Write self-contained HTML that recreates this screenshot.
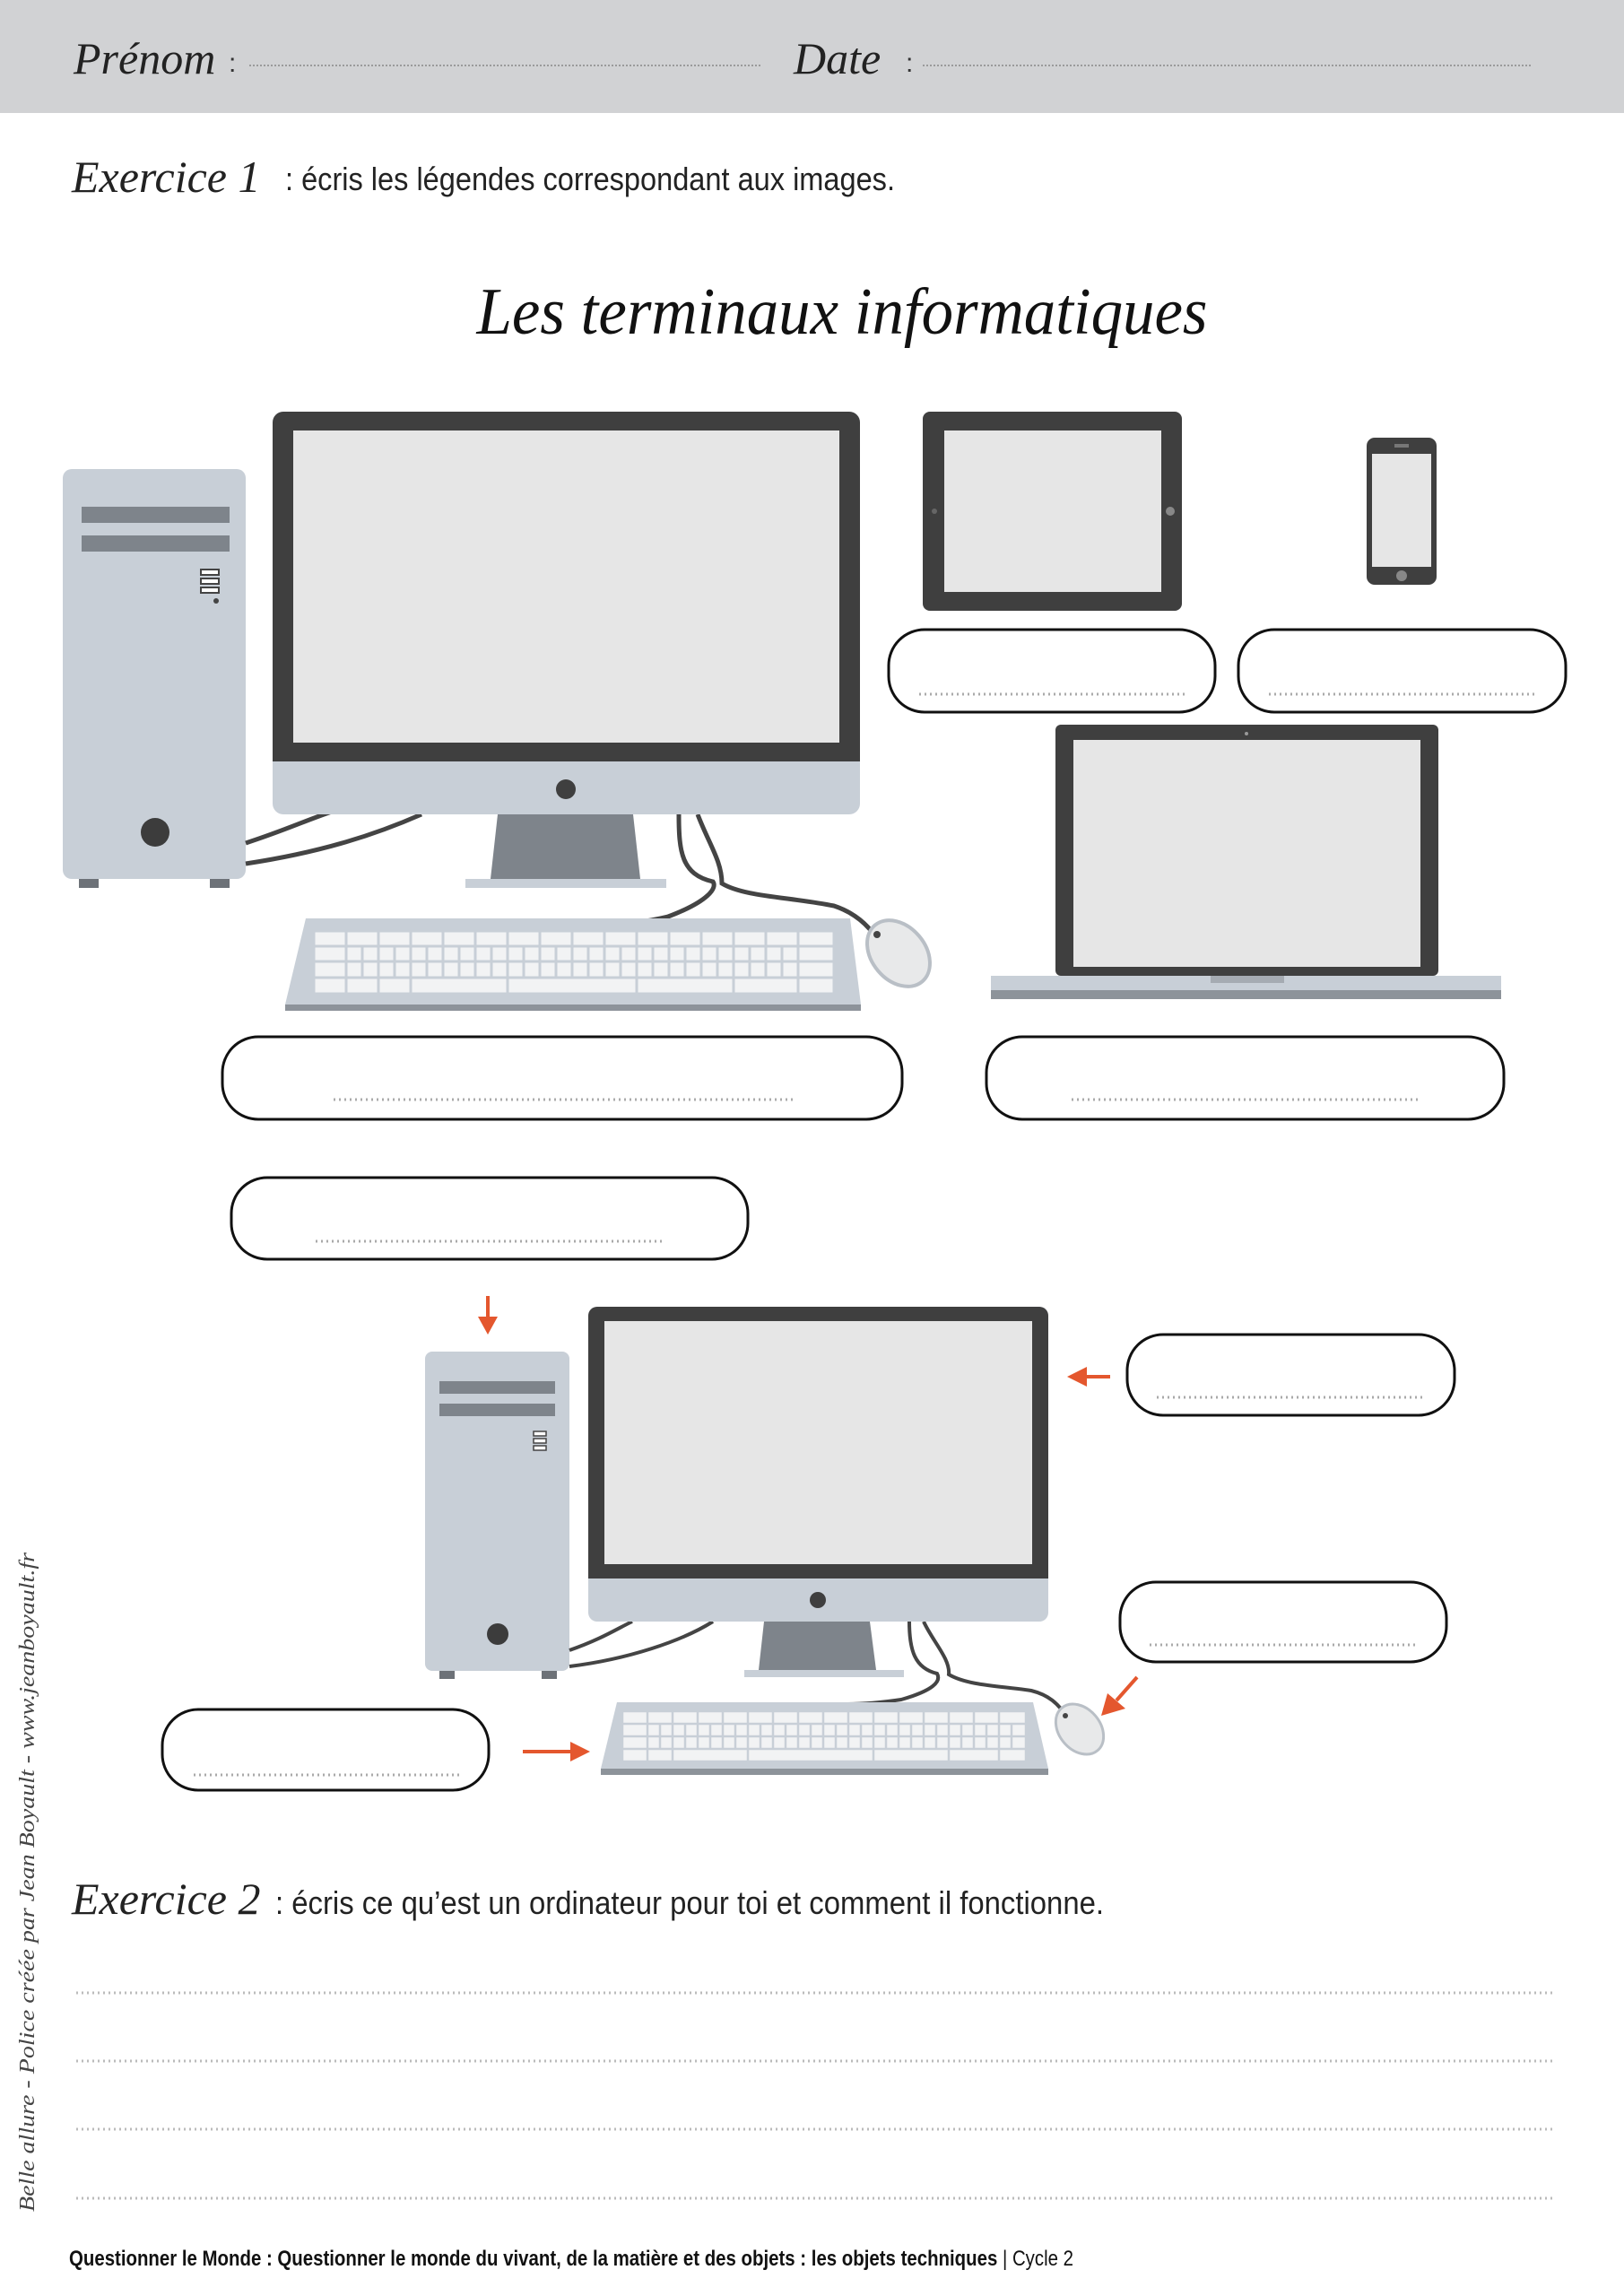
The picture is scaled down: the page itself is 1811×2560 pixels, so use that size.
<!DOCTYPE html>
<html><head><meta charset="utf-8"><style>
html,body{margin:0;padding:0;background:#fff}
svg{display:block}
.cur{font-family:"Liberation Serif",serif;font-style:italic}
.nar{font-family:"Liberation Sans Narrow","Liberation Sans",sans-serif}
</style></head><body>
<svg width="1811" height="2560" viewBox="0 0 1811 2560" xmlns="http://www.w3.org/2000/svg">
<rect x="0" y="0" width="1811" height="126" fill="#d1d2d4"/>
<text x="82" y="82" class="cur" font-size="50" fill="#222">Prénom</text>
<text x="255" y="80" class="nar" font-size="30" fill="#333">:</text>
<line x1="278" y1="73" x2="849" y2="73" stroke="#888" stroke-width="1.5" stroke-dasharray="2 2"/>
<text x="885" y="82" class="cur" font-size="50" fill="#222">Date</text>
<text x="1010" y="80" class="nar" font-size="30" fill="#333">:</text>
<line x1="1029" y1="73" x2="1707" y2="73" stroke="#888" stroke-width="1.5" stroke-dasharray="2 2"/>

<text x="80" y="214" class="cur" font-size="50" fill="#222">Exercice 1</text>
<text x="318" y="212" class="nar" font-size="36" fill="#222" textLength="680" lengthAdjust="spacingAndGlyphs">: écris les légendes correspondant aux images.</text>
<text x="939" y="372" text-anchor="middle" class="cur" font-size="74" fill="#111" textLength="815" lengthAdjust="spacingAndGlyphs">Les terminaux informatiques</text>

<!-- Tower 1 -->
<g>
<rect x="88" y="976" width="22" height="14" fill="#6d7278"/><rect x="234" y="976" width="22" height="14" fill="#6d7278"/>
<rect x="70" y="523" width="204" height="457" rx="10" fill="#c8cfd7"/>
<rect x="91" y="565" width="165" height="18" fill="#7e848b"/>
<rect x="91" y="597" width="165" height="18" fill="#7e848b"/>
<rect x="224" y="635" width="20" height="6" fill="#fff" stroke="#444" stroke-width="2"/>
<rect x="224" y="645" width="20" height="6" fill="#fff" stroke="#444" stroke-width="2"/>
<rect x="224" y="655" width="20" height="6" fill="#fff" stroke="#444" stroke-width="2"/>
<circle cx="241" cy="670" r="3" fill="#444"/>
<circle cx="173" cy="928" r="16" fill="#3c3c3c"/>
</g>
<path d="M274 940 C320 925 340 915 370 905" stroke="#444" stroke-width="5" fill="none"/>
<path d="M274 963 C360 950 420 930 470 908" stroke="#444" stroke-width="5" fill="none"/>
<path d="M757 908 C757 950 760 975 795 983 C800 990 790 1005 745 1022 C720 1028 700 1030 660 1032" stroke="#444" stroke-width="5" fill="none"/>
<path d="M778 908 C790 940 805 960 805 985 C830 1000 880 1000 930 1010 C960 1020 975 1040 983 1055" stroke="#444" stroke-width="5" fill="none"/>
<polygon points="555,908 706,908 714,980 547,980" fill="#7e848b"/>
<rect x="519" y="980" width="224" height="10" fill="#c8cfd7"/>
<rect x="304" y="459" width="655" height="449" rx="12" fill="#c8cfd7"/>
<path d="M316 459 H947 A12 12 0 0 1 959 471 V849 H304 V471 A12 12 0 0 1 316 459Z" fill="#3f3f3f"/>
<rect x="327" y="480" width="609" height="348" fill="#e6e6e6"/>
<circle cx="631" cy="880" r="11" fill="#3f3f3f"/>
<polygon points="318,1120 341,1024 948,1024 960,1120" fill="#c8cfd7"/>
<rect x="318" y="1120" width="642" height="7" fill="#8d939a"/>
<g stroke="#c8cfd7" stroke-width="3">
<rect x="350" y="1038" width="580" height="70" fill="#f2f3f4"/>
<line x1="348" y1="1055" x2="934" y2="1055"/><line x1="348" y1="1072" x2="936" y2="1072"/><line x1="348" y1="1090" x2="938" y2="1090"/>
</g>
<g stroke="#c8cfd7" stroke-width="3">
<path d="M386 1038V1108M422 1038V1108M458 1038V1108M494 1038V1090M530 1038V1090M566 1038V1108M602 1038V1090M638 1038V1090M674 1038V1090M710 1038V1108M746 1038V1090M782 1038V1090M818 1038V1108M854 1038V1090M890 1038V1108M404 1055V1090M440 1055V1090M476 1055V1090M512 1055V1090M548 1055V1090M584 1055V1090M620 1055V1090M656 1055V1090M692 1055V1090M728 1055V1090M764 1055V1090M800 1055V1090M836 1055V1090M872 1055V1090"/>
</g>
<ellipse cx="1002" cy="1063" rx="30" ry="41" transform="rotate(-40 1002 1063)" fill="#e8e9ea" stroke="#b9bfc6" stroke-width="4"/>
<circle cx="978" cy="1042" r="4" fill="#444"/>

<rect x="1029" y="459" width="289" height="222" rx="8" fill="#3f3f3f"/>
<rect x="1053" y="480" width="242" height="180" fill="#e6e6e6"/>
<circle cx="1305" cy="570" r="5" fill="#888"/><circle cx="1042" cy="570" r="3" fill="#666"/>
<rect x="1524" y="488" width="78" height="164" rx="9" fill="#3f3f3f"/>
<rect x="1530" y="506" width="66" height="126" fill="#e6e6e6"/>
<circle cx="1563" cy="642" r="6" fill="#888"/><rect x="1555" y="495" width="16" height="4" fill="#777"/>

<rect x="1177" y="808" width="427" height="280" rx="6" fill="#3f3f3f"/>
<rect x="1197" y="825" width="387" height="253" fill="#e6e6e6"/>
<circle cx="1390" cy="818" r="2" fill="#999"/>
<polygon points="1105,1088 1674,1088 1674,1104 1660,1114 1120,1114 1105,1104" fill="#c8cfd7"/>
<rect x="1105" y="1104" width="569" height="10" fill="#8d939a"/>
<rect x="1350" y="1088" width="82" height="8" fill="#a5abb2"/>

<g fill="none" stroke="#111" stroke-width="3">
<rect x="991" y="702" width="364" height="92" rx="40"/>
<rect x="1381" y="702" width="365" height="92" rx="40"/>
<rect x="248" y="1156" width="758" height="92" rx="40"/>
<rect x="1100" y="1156" width="577" height="92" rx="40"/>
<rect x="258" y="1313" width="576" height="91" rx="40"/>
<rect x="1257" y="1488" width="365" height="90" rx="40"/>
<rect x="1249" y="1764" width="364" height="89" rx="40"/>
<rect x="181" y="1906" width="364" height="90" rx="40"/>
</g>
<g stroke="#aaa" stroke-width="3" stroke-dasharray="2 4">
<line x1="1025" y1="774" x2="1322" y2="774"/>
<line x1="1415" y1="774" x2="1712" y2="774"/>
<line x1="372" y1="1226" x2="884" y2="1226"/>
<line x1="1195" y1="1226" x2="1582" y2="1226"/>
<line x1="352" y1="1384" x2="740" y2="1384"/>
<line x1="1290" y1="1558" x2="1589" y2="1558"/>
<line x1="1282" y1="1834" x2="1580" y2="1834"/>
<line x1="216" y1="1979" x2="514" y2="1979"/>
</g>

<g fill="#e4572e" stroke="#e4572e">
<line x1="544" y1="1445" x2="544" y2="1472" stroke-width="4"/><polygon points="533,1468 555,1468 544,1488" stroke="none"/>
<line x1="1212" y1="1535" x2="1238" y2="1535" stroke-width="4"/><polygon points="1190,1535 1212,1524 1212,1546" stroke="none"/>
<line x1="583" y1="1953" x2="638" y2="1953" stroke-width="4"/><polygon points="658,1953 636,1942 636,1964" stroke="none"/>
<line x1="1268" y1="1870" x2="1245" y2="1896" stroke-width="4"/><polygon points="1228,1913 1235,1888 1255,1905" stroke="none"/>
</g>
<rect x="490" y="1860" width="17" height="12" fill="#6d7278"/><rect x="604" y="1860" width="17" height="12" fill="#6d7278"/>
<rect x="474" y="1507" width="161" height="356" rx="8" fill="#c8cfd7"/>
<rect x="490" y="1540" width="129" height="14" fill="#7e848b"/>
<rect x="490" y="1565" width="129" height="14" fill="#7e848b"/>
<rect x="595" y="1596" width="14" height="5" fill="#fff" stroke="#444" stroke-width="1.5"/>
<rect x="595" y="1604" width="14" height="5" fill="#fff" stroke="#444" stroke-width="1.5"/>
<rect x="595" y="1612" width="14" height="5" fill="#fff" stroke="#444" stroke-width="1.5"/>
<circle cx="555" cy="1822" r="12" fill="#3c3c3c"/>
<path d="M635 1840 C670 1828 690 1815 705 1808" stroke="#444" stroke-width="4" fill="none"/>
<path d="M635 1858 C700 1850 760 1830 795 1808" stroke="#444" stroke-width="4" fill="none"/>
<path d="M1014 1808 C1014 1840 1020 1860 1045 1866 C1050 1875 1040 1885 1005 1895 C985 1898 965 1900 945 1900" stroke="#444" stroke-width="4" fill="none"/>
<path d="M1030 1808 C1040 1830 1060 1850 1058 1867 C1080 1880 1120 1880 1150 1885 C1170 1890 1180 1900 1188 1912" stroke="#444" stroke-width="4" fill="none"/>
<polygon points="852,1808 970,1808 977,1862 846,1862" fill="#7e848b"/>
<rect x="830" y="1862" width="178" height="8" fill="#c8cfd7"/>
<rect x="656" y="1457" width="513" height="351" rx="10" fill="#c8cfd7"/>
<path d="M666 1457 H1159 A10 10 0 0 1 1169 1467 V1760 H656 V1467 A10 10 0 0 1 666 1457Z" fill="#3f3f3f"/>
<rect x="674" y="1473" width="477" height="271" fill="#e6e6e6"/>
<circle cx="912" cy="1784" r="9" fill="#3f3f3f"/>
<polygon points="670,1972 688,1898 1152,1898 1169,1972" fill="#c8cfd7"/>
<rect x="670" y="1972" width="499" height="7" fill="#8d939a"/>
<g stroke="#c8cfd7" stroke-width="2.5">
<rect x="694" y="1908" width="450" height="56" fill="#f2f3f4"/>
<line x1="692" y1="1922" x2="1146" y2="1922"/><line x1="692" y1="1936" x2="1148" y2="1936"/><line x1="692" y1="1950" x2="1150" y2="1950"/>
<path d="M722 1908V1964M750 1908V1964M778 1908V1950M806 1908V1950M834 1908V1964M862 1908V1950M890 1908V1950M918 1908V1950M946 1908V1950M974 1908V1964M1002 1908V1950M1030 1908V1950M1058 1908V1964M1086 1908V1950M1114 1908V1964M736 1922V1950M764 1922V1950M792 1922V1950M820 1922V1950M848 1922V1950M876 1922V1950M904 1922V1950M932 1922V1950M960 1922V1950M988 1922V1950M1016 1922V1950M1044 1922V1950M1072 1922V1950M1100 1922V1950M1128 1922V1950"/>
</g>
<ellipse cx="1204" cy="1928" rx="23" ry="31" transform="rotate(-40 1204 1928)" fill="#e8e9ea" stroke="#b9bfc6" stroke-width="3"/>
<circle cx="1188" cy="1913" r="3" fill="#444"/>

<text x="80" y="2134" class="cur" font-size="50" fill="#222">Exercice 2</text>
<text x="307" y="2134" class="nar" font-size="36" fill="#222" textLength="924" lengthAdjust="spacingAndGlyphs">: écris ce qu’est un ordinateur pour toi et comment il fonctionne.</text>
<g stroke="#bbb" stroke-width="3" stroke-dasharray="2 4">
<line x1="85" y1="2222" x2="1734" y2="2222"/>
<line x1="85" y1="2298" x2="1734" y2="2298"/>
<line x1="85" y1="2374" x2="1734" y2="2374"/>
<line x1="85" y1="2451" x2="1734" y2="2451"/>
</g>
<text transform="translate(38 2466) rotate(-90)" class="cur" font-size="24" fill="#444" textLength="735" lengthAdjust="spacingAndGlyphs">Belle allure - Police créée par Jean Boyault - www.jeanboyault.fr</text>
<text x="77" y="2526" class="nar" font-size="24" fill="#111" textLength="1120" lengthAdjust="spacingAndGlyphs"><tspan font-weight="bold">Questionner le Monde : Questionner le monde du vivant, de la matière et des objets : les objets techniques</tspan> | Cycle 2</text>
</svg>
</body></html>
